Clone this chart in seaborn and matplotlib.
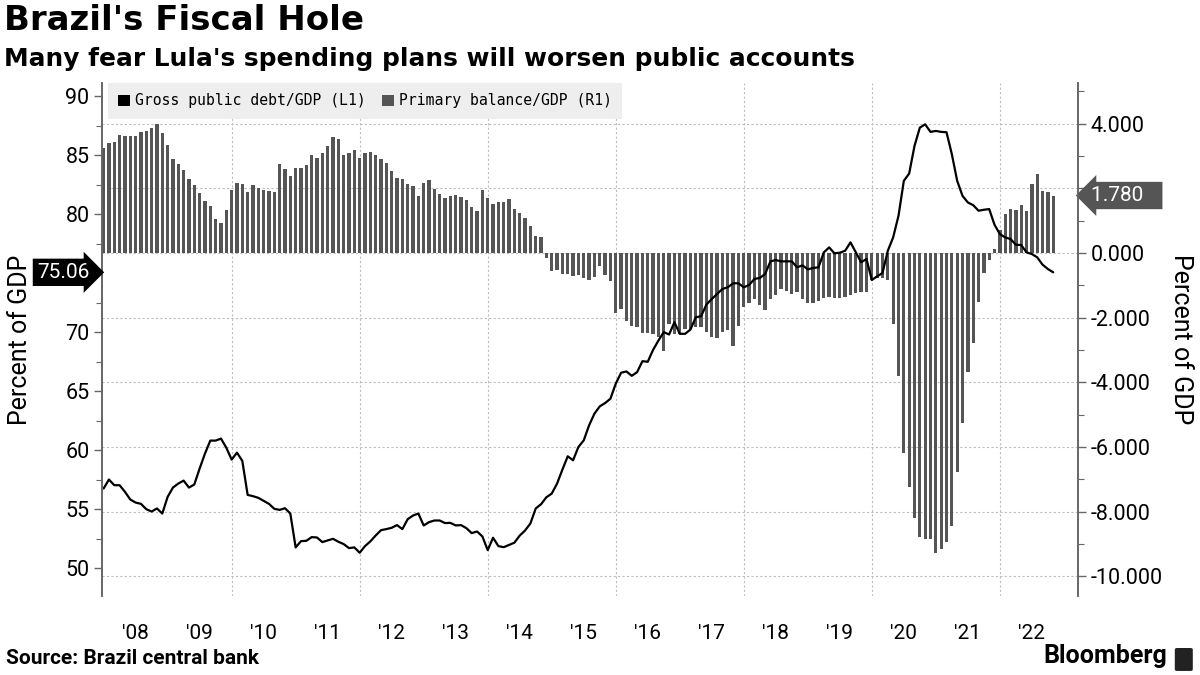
import numpy as np
import pandas as pd
import matplotlib
matplotlib.use("Agg")
import matplotlib.pyplot as plt
import matplotlib.ticker as mticker
import matplotlib.transforms as mtrans
from matplotlib.patches import Patch, FancyBboxPatch
import seaborn as sns

# ---------------- data (monthly, Jan 2008 - Nov 2022) ----------------
start_year = 2008

debt_gdp = [
    56.74, 57.50, 57.02, 57.02, 56.46, 55.81, 55.55, 55.44, 54.99, 54.79,
    55.05, 54.62, 56.03, 56.82, 57.16, 57.41, 56.82, 57.08, 58.43, 59.70,
    60.80, 60.80, 60.97, 60.20, 59.19, 59.78, 59.08, 56.20, 56.09, 55.95,
    55.69, 55.44, 55.02, 54.93, 55.07, 54.62, 51.75, 52.28, 52.31, 52.62,
    52.59, 52.20, 52.34, 52.48, 52.23, 52.03, 51.69, 51.75, 51.30, 51.86,
    52.26, 52.76, 53.21, 53.30, 53.41, 53.64, 53.30, 54.14, 54.45, 54.62,
    53.61, 53.89, 54.03, 54.03, 53.81, 53.83, 53.61, 53.64, 53.38, 52.96,
    53.10, 52.68, 51.52, 52.57, 51.86, 51.77, 51.96, 52.15, 52.75, 53.18,
    53.78, 55.05, 55.41, 56.00,
    56.31, 57.16, 58.34, 59.47, 59.13, 60.26, 60.82, 62.09, 63.08, 63.70,
    63.98, 64.35, 65.62, 66.55, 66.66, 66.29, 66.60, 67.53, 67.48, 68.49,
    69.28, 69.99, 69.79, 70.83, 69.85, 69.85, 70.21, 71.25, 71.34, 72.33,
    72.80, 73.23, 73.65, 73.79, 74.13, 74.13, 73.79, 73.99, 74.50, 74.58,
    74.92, 75.99,
    76.10, 75.99, 75.99, 75.99, 75.48, 75.65, 75.31, 75.43, 75.48, 76.75,
    77.17, 76.67, 76.72, 76.89, 77.60, 76.75, 75.91, 76.19, 74.41, 74.72,
    75.00, 76.89, 78.02, 79.85, 82.81, 83.43, 85.77, 87.32, 87.60, 86.96,
    87.04, 86.96, 86.93, 85.07, 82.81, 81.54, 80.98, 80.75, 80.28, 80.36,
    80.42, 79.09, 78.30, 78.02, 77.88, 77.40, 77.37, 76.75, 76.61, 76.33,
    75.71, 75.34, 75.06,
]

primary_balance_gdp = [
    3.25, 3.41, 3.44, 3.65, 3.62, 3.62, 3.62, 3.76, 3.78, 3.87,
    3.99, 3.70, 3.34, 2.91, 2.76, 2.57, 2.29, 2.11, 1.85, 1.62,
    1.46, 1.06, 0.94, 1.34, 1.95, 2.17, 2.14, 1.89, 2.11, 2.02,
    1.95, 1.92, 1.89, 2.76, 2.60, 2.39, 2.63, 2.63, 2.73, 3.03,
    2.94, 3.10, 3.31, 3.59, 3.53, 3.03, 3.10, 3.19, 2.94, 3.10,
    3.13, 3.03, 2.91, 2.79, 2.54, 2.33, 2.29, 2.14, 2.08, 1.77,
    2.17, 2.26, 1.99, 1.83, 1.71, 1.77, 1.80, 1.74, 1.65, 1.43,
    1.31, 1.95, 1.71, 1.52, 1.58, 1.58, 1.68, 1.37, 1.24, 1.09,
    0.84, 0.53, 0.50, -0.16,
    -0.57, -0.53, -0.64, -0.66, -0.72, -0.69, -0.78, -0.84, -0.75, -0.41,
    -0.69, -0.87, -1.86, -1.74, -2.09, -2.26, -2.29, -2.48, -2.48, -2.51,
    -2.60, -3.03, -2.20, -2.51, -2.51, -2.36, -2.36, -2.29, -2.29, -2.45,
    -2.60, -2.63, -2.45, -2.39, -2.88, -2.26, -1.68, -1.55, -1.43, -1.62,
    -1.77, -1.43, -1.31, -1.12, -1.18, -1.28, -1.21, -1.43, -1.55, -1.55,
    -1.49, -1.40, -1.37, -1.40, -1.40, -1.37, -1.31, -1.24, -1.21, -1.21,
    -0.82, -0.77, -0.77, -0.84, -2.19, -3.81, -6.17, -7.23, -8.21, -8.78,
    -8.84, -8.84, -9.27, -9.15, -8.93, -8.44, -6.77, -5.26, -3.68, -2.79,
    -1.52, -0.61, -0.23, 0.13, 0.72, 1.20, 1.37, 1.34, 1.49, 1.31,
    2.14, 2.45, 1.92, 1.89, 1.78,
]

year_tick_labels = ["'08", "'09", "'10", "'11", "'12", "'13", "'14", "'15",
                    "'16", "'17", "'18", "'19", "'20", "'21", "'22"]
debt_ticks = [50, 55, 60, 65, 70, 75, 80, 85, 90]
balance_ticks = [-10, -8, -6, -4, -2, 0, 2, 4]
last_debt_label = "75.06"
last_balance_label = "1.780"

title = "Brazil's Fiscal Hole"
subtitle = "Many fear Lula's spending plans will worsen public accounts"
source = "Source: Brazil central bank"
debt_name = "Gross public debt/GDP (L1)"
balance_name = "Primary balance/GDP (R1)"

# ---------------- frame ----------------
n = len(debt_gdp)
df = pd.DataFrame({
    "t": start_year + np.arange(n) / 12.0,
    "debt": debt_gdp,
    "balance": primary_balance_gdp,
})

BAR_C = "#555555"
GRID_C = "#bdbdbd"
AXIS_C = "#666666"

sns.set_theme(style="white")
plt.rcParams['font.family'] = ['Roboto', 'DejaVu Sans']
for k in ('text.color', 'axes.labelcolor', 'xtick.color', 'ytick.color'):
    plt.rcParams[k] = 'black'

fig = plt.figure(figsize=(12, 6.75), dpi=100)
ax = fig.add_axes([0.085, 0.117, 0.8133, 0.760])

# bars (right axis, R1)
sns.barplot(data=df, x="t", y="balance", native_scale=True, color=BAR_C,
            saturation=1, width=0.62, errorbar=None, linewidth=0, ax=ax)

# line (left axis, L1)
ax2 = ax.twinx()
sns.lineplot(data=df, x="t", y="debt", color="black", linewidth=1.6, ax=ax2)

ax.set_xlim(2007.975, 2023.22)
ax.set_ylim(-10.61, 5.26)
ax2.set_ylim(47.63, 91.1)

# x axis
ax.set_xticks([start_year + i + 0.5 for i in range(len(year_tick_labels))])
ax.set_xticklabels(year_tick_labels)
ax.xaxis.set_minor_locator(mticker.FixedLocator(list(range(2010, 2023, 2))))
ax.tick_params(axis='x', which='both', length=0, pad=20, labelsize=15,
               bottom=True, labelbottom=True, labelcolor='black')
ax.set_xlabel("")

# labels hidden behind the value tags (as in the reference)
hidden_right = {2}
hidden_left = {75}

# right axis (bars)
ax.yaxis.tick_right()
ax.yaxis.set_label_position('right')
ax.set_yticks(balance_ticks)
ax.yaxis.set_major_formatter(mticker.FuncFormatter(
    lambda v, p: "" if round(v) in hidden_right else f"{v:.3f}"))
ax.yaxis.set_minor_locator(mticker.MultipleLocator(1))
ax.tick_params(axis='y', which='major', right=True, left=False, labelright=True,
               labelleft=False, direction='out', length=6, width=1, color=AXIS_C,
               labelcolor='black', labelsize=15.5, pad=3)
ax.tick_params(axis='y', which='minor', right=True, left=False, direction='out',
               length=4, width=0.8, color=AXIS_C)
ax.set_ylabel("Percent of GDP", fontsize=18, rotation=270, labelpad=22)

# left axis (line)
ax2.yaxis.tick_left()
ax2.yaxis.set_label_position('left')
ax2.set_yticks(debt_ticks)
ax2.yaxis.set_major_formatter(mticker.FuncFormatter(
    lambda v, p: "" if round(v) in hidden_left else f"{v:.0f}"))
ax2.yaxis.set_minor_locator(mticker.MultipleLocator(2.5))
ax2.tick_params(axis='y', which='major', left=True, right=False, labelleft=True,
                labelright=False, direction='out', length=6, width=1, color=AXIS_C,
                labelcolor='black', labelsize=15.5, pad=3)
ax2.tick_params(axis='y', which='minor', left=True, right=False, direction='out',
                length=4, width=0.8, color=AXIS_C)
ax2.set_ylabel("Percent of GDP", fontsize=18, labelpad=24)

# grid
ax.set_axisbelow(True)
ax.grid(axis='y', which='major', color=GRID_C, linestyle=(0, (2, 2)), linewidth=0.8)
ax.grid(axis='x', which='minor', color=GRID_C, linestyle=(0, (2, 2)), linewidth=0.8)
ax.grid(axis='x', which='major', visible=False)
ax2.grid(False)

for a in (ax, ax2):
    a.spines['top'].set_visible(False)
    a.spines['bottom'].set_visible(False)
    a.spines['left'].set_color(AXIS_C)
    a.spines['right'].set_color(AXIS_C)
    a.spines['left'].set_linewidth(1.2)
    a.spines['right'].set_linewidth(1.2)

# legend
handles = [Patch(facecolor='black', edgecolor='none', label=debt_name),
           Patch(facecolor=BAR_C, edgecolor='none', label=balance_name)]
leg = ax2.legend(handles=handles, loc='upper left', bbox_to_anchor=(0.006, 1.0),
                 ncol=2, frameon=True, facecolor='#eeeeee', edgecolor='none',
                 fancybox=False, framealpha=1, handlelength=0.8, handleheight=0.8,
                 handletextpad=0.35, columnspacing=1.1, borderpad=0.7,
                 borderaxespad=0.0, prop={'family': 'DejaVu Sans Mono', 'size': 10.6})
leg.set_zorder(5)

# value tags
tl = mtrans.blended_transform_factory(ax2.transAxes, ax2.transData)
ax2.text(-0.013, debt_gdp[-1], last_debt_label, transform=tl, ha='right', va='center',
         color='white', fontsize=15, clip_on=False, zorder=10,
         bbox=dict(boxstyle='rarrow,pad=0.2', fc='black', ec='none'))
tr = mtrans.blended_transform_factory(ax.transAxes, ax.transData)
ax.text(1.013, primary_balance_gdp[-1], last_balance_label + "   ", transform=tr,
        ha='left', va='center', color='white', fontsize=15, clip_on=False, zorder=10,
        bbox=dict(boxstyle='larrow,pad=0.2', fc=BAR_C, ec='none'))

# titles and footer
fig.text(0.003, 0.994, title, fontsize=24.5, fontweight='bold', va='top', ha='left',
         family='DejaVu Sans', color='black')
fig.text(0.003, 0.930, subtitle, fontsize=17.9, fontweight='bold', va='top', ha='left',
         family='DejaVu Sans', color='black')
fig.text(0.005, 0.01, source, fontsize=15, fontweight='bold', va='bottom', ha='left')
fig.text(0.973, 0.01, "Bloomberg", fontsize=18, fontweight='bold', va='bottom', ha='right')
icon = FancyBboxPatch((0.981, 0.008), 0.011, 0.030, boxstyle='round,pad=0.002',
                      transform=fig.transFigure, fc='#222222', ec='none')
fig.patches.append(icon)

fig.savefig("out.png", dpi=100)
